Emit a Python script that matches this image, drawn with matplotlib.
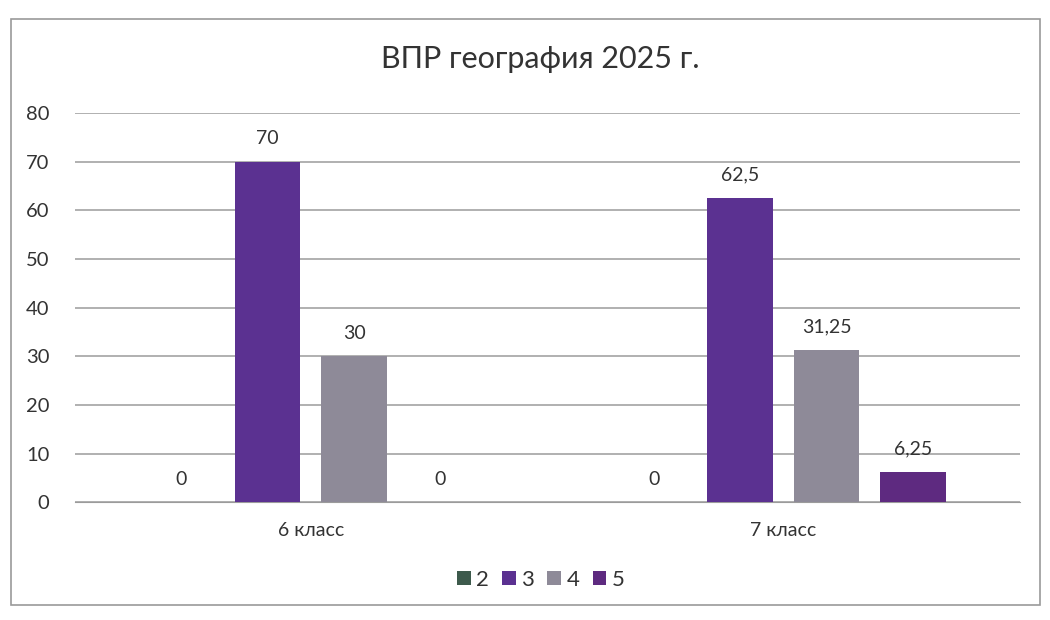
import matplotlib.pyplot as plt
from matplotlib.patches import Rectangle
import numpy as np

plt.rcParams['font.family'] = ['Lato', 'DejaVu Sans']

# data
classes = ['6 класс', '7 класс']
grades = ['2', '3', '4', '5']
values = {
    '2': [0, 0],
    '3': [70, 62.5],
    '4': [30, 31.25],
    '5': [0, 6.25],
}
colors = ['#3d5a4c', '#5b3191', '#8e8a98', '#5e2a80']

fig = plt.figure(figsize=(10.5, 6.2), dpi=100)
ax = fig.add_axes([0.071, 0.19, 0.90, 0.628])

# outer frame of the chart
fig.patches.append(Rectangle((0.01, 0.025), 0.98, 0.945, transform=fig.transFigure,
                             fill=False, edgecolor='#9a9a9a', linewidth=1.2))

x = np.arange(len(classes))
step = 0.183
width = 0.138
for i, g in enumerate(grades):
    pos = x + (i - 1.5) * step
    bars = ax.bar(pos, values[g], width, color=colors[i], label=g, zorder=3)
    for b, v in zip(bars, values[g]):
        txt = ('%g' % v).replace('.', ',')
        ax.text(b.get_x() + b.get_width() / 2, v + 3.0, txt,
                ha='center', va='bottom', fontsize=14, color='#333333')

ax.set_ylim(0, 80)
ax.set_xlim(-0.5, 1.5)
ax.set_yticks(range(0, 81, 10))
ax.yaxis.grid(True, color='#9b9b9b', linewidth=1.1, zorder=0)
ax.set_axisbelow(True)
for s in ['top', 'right', 'left']:
    ax.spines[s].set_visible(False)
ax.spines['bottom'].set_color('#9b9b9b')
ax.tick_params(axis='y', length=0, labelsize=14.5, labelcolor='#333333', pad=18)
ax.tick_params(axis='x', length=0, labelsize=14, labelcolor='#333333', pad=14)
ax.set_xticks(x)
ax.set_xticklabels(classes)

fig.text(0.515, 0.905, 'ВПР география 2025 г.', ha='center', va='center',
         fontsize=22, color='#333333')

fig.legend(loc='center', bbox_to_anchor=(0.515, 0.065), ncol=4, frameon=False,
           fontsize=16, handlelength=0.6, handleheight=0.6, handletextpad=0.25,
           columnspacing=0.6, labelcolor='#333333')

fig.savefig('out.png', dpi=100)
